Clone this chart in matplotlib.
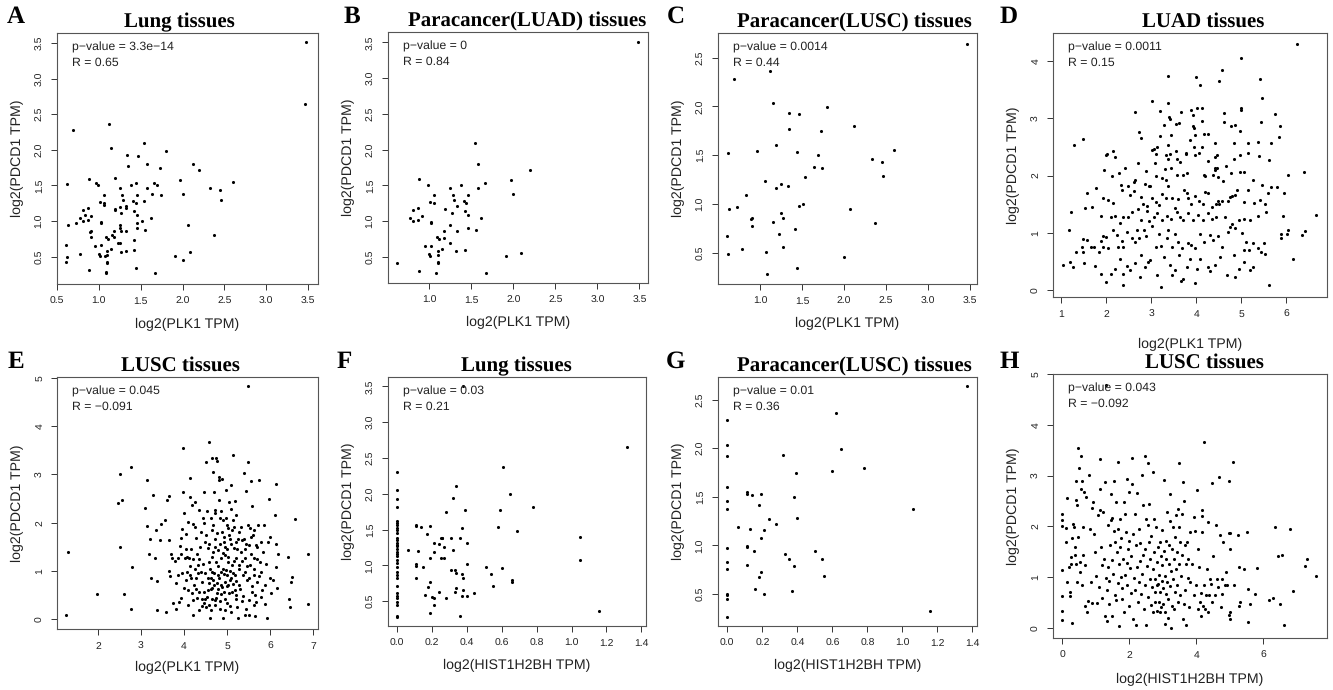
import numpy as np
import matplotlib
matplotlib.use("Agg")
import matplotlib.pyplot as plt

plt.rcParams['font.family'] = ['Liberation Sans', 'DejaVu Sans']
plt.rcParams['text.hinting'] = 'no_hinting'
SERIF = ['Liberation Serif', 'DejaVu Serif']

# ---- data: (x, y) pairs ----
# paracancer LUAD: PLK1 vs PDCD1
b_pts = [(0.61, 0.42), (0.88, 1.59), (0.77, 1.04), (0.81, 1.15), (0.81, 1.00), (0.87, 1.01),
         (0.87, 1.19), (0.91, 1.07), (0.88, 0.31), (0.95, 0.65), (0.99, 1.51), (1.01, 1.27),
         (1.02, 0.99), (1.02, 0.98), (1.06, 1.25), (1.06, 1.36), (1.02, 0.66), (1.00, 0.54),
         (1.01, 0.51), (1.09, 0.78), (1.11, 0.75), (1.10, 0.58), (1.10, 0.43), (1.10, 0.41),
         (1.10, 0.53), (1.08, 0.27), (1.15, 0.61), (1.18, 0.86), (1.18, 0.77), (1.19, 1.17),
         (1.25, 1.46), (1.25, 0.95), (1.25, 0.69), (1.27, 1.12), (1.28, 1.37), (1.29, 1.29),
         (1.32, 0.58), (1.33, 0.86), (1.33, 1.21), (1.38, 1.51), (1.41, 1.28), (1.42, 1.14),
         (1.42, 0.60), (1.44, 1.26), (1.46, 1.37), (1.46, 1.09), (1.46, 0.91), (1.54, 2.10),
         (1.58, 1.80), (1.58, 1.47), (1.55, 0.88), (1.62, 1.04), (1.66, 1.54), (1.67, 0.27),
         (1.91, 0.51), (1.97, 1.57), (2.00, 1.38), (2.09, 0.56), (2.20, 1.72), (3.48, 3.51)]

# paracancer LUSC: PLK1 vs PDCD1
c_pts = [(0.61, 0.67), (0.62, 0.49), (0.63, 0.95), (0.62, 1.52), (0.69, 2.28), (0.73, 0.97),
         (0.78, 0.54), (0.83, 1.09), (0.89, 0.84), (0.91, 0.86), (0.91, 0.77), (0.96, 1.54),
         (1.07, 0.51), (1.06, 1.23), (1.08, 0.28), (1.12, 2.36), (1.15, 2.03), (1.16, 0.81),
         (1.19, 1.60), (1.19, 1.16), (1.23, 0.69), (1.25, 1.20), (1.25, 0.91), (1.27, 0.86),
         (1.27, 0.56), (1.33, 1.18), (1.34, 1.93), (1.35, 1.77), (1.42, 0.74), (1.44, 0.34),
         (1.44, 1.53), (1.46, 0.98), (1.47, 1.92), (1.51, 1.00), (1.54, 1.28), (1.64, 1.38),
         (1.69, 1.50), (1.74, 1.37), (1.73, 1.75), (1.80, 1.99), (2.00, 0.46), (2.07, 0.95),
         (2.12, 1.80), (2.33, 1.46), (2.37, 0.80), (2.45, 1.43), (2.46, 1.29), (2.60, 1.55),
         (3.46, 2.64)]

# lung tissues = both paracancer groups
a_pts = b_pts + c_pts

# LUAD tissues: PLK1 vs PDCD1
d_pts = [(6.24, 4.29), (5.00, 4.05), (4.57, 3.83), (3.36, 3.73), (4.00, 3.71), (4.51, 3.65),
         (5.41, 3.69), (4.09, 3.57), (5.46, 3.35), (3.02, 3.30), (3.37, 3.27), (4.99, 3.18),
         (4.99, 3.14), (4.13, 3.18), (4.02, 3.17), (3.88, 3.14), (3.20, 3.12), (2.63, 3.11),
         (3.67, 3.10), (4.61, 3.09), (5.76, 3.07), (3.39, 3.02), (3.42, 2.98), (3.93, 3.06),
         (3.28, 2.88), (3.55, 2.90), (3.62, 2.92), (4.13, 2.95), (4.62, 2.93), (5.44, 2.93),
         (5.87, 2.86), (3.92, 2.86), (3.96, 2.82), (4.77, 2.86), (4.85, 2.88), (2.72, 2.75),
         (2.77, 2.66), (3.44, 2.70), (3.98, 2.71), (4.17, 2.73), (4.98, 2.78), (1.47, 2.64),
         (5.84, 2.67), (3.19, 2.68), (4.26, 2.72), (3.86, 2.62), (5.37, 2.59), (5.67, 2.57),
         (5.15, 2.57), (4.84, 2.57), (4.42, 2.57), (1.28, 2.54), (3.36, 2.54), (4.13, 2.50),
         (3.96, 2.50), (3.13, 2.50), (3.07, 2.47), (3.01, 2.45), (2.15, 2.43), (3.55, 2.43),
         (3.77, 2.40), (3.78, 2.38), (2.02, 2.38), (2.00, 2.36), (3.11, 2.38), (3.33, 2.35),
         (3.42, 2.38), (3.97, 2.35), (4.06, 2.39), (4.45, 2.36), (4.97, 2.35), (5.14, 2.40),
         (5.40, 2.34), (2.20, 2.32), (2.71, 2.21), (3.09, 2.22), (3.37, 2.28), (3.58, 2.28),
         (3.63, 2.23), (4.27, 2.26), (4.42, 2.33), (4.83, 2.28), (5.62, 2.27), (2.42, 2.13),
         (3.31, 2.11), (3.43, 2.13), (4.41, 2.13), (4.42, 2.10), (4.46, 2.13), (4.66, 2.17),
         (2.89, 2.08), (1.94, 2.09), (2.13, 1.99), (2.29, 2.04), (2.63, 1.93), (2.62, 1.89),
         (2.86, 1.86), (2.95, 1.82), (2.97, 1.81), (3.11, 1.99), (3.23, 1.96), (3.32, 1.93),
         (3.37, 1.82), (3.57, 2.01), (3.71, 2.01), (3.79, 2.04), (4.17, 2.01), (4.19, 1.99),
         (4.37, 2.01), (4.48, 1.97), (4.60, 1.90), (4.77, 2.04), (4.98, 2.06), (5.07, 2.06),
         (5.27, 1.92), (5.46, 1.84), (5.59, 1.69), (5.66, 1.80), (5.79, 1.80), (5.95, 1.69),
         (6.05, 2.01), (6.39, 2.06), (1.58, 1.69), (1.78, 1.79), (1.93, 1.60), (2.03, 1.57),
         (2.14, 1.52), (2.32, 1.83), (2.35, 1.74), (2.49, 1.82), (2.52, 1.66), (2.62, 1.73),
         (2.78, 1.62), (2.82, 1.51), (2.91, 1.47), (3.01, 1.61), (3.10, 1.54), (3.17, 1.49),
         (3.23, 1.67), (3.33, 1.61), (3.45, 1.60), (3.53, 1.44), (3.59, 1.59), (3.73, 1.75),
         (3.79, 1.69), (3.82, 1.60), (3.88, 1.51), (3.97, 1.64), (4.06, 1.55), (4.16, 1.51),
         (4.19, 1.71), (4.27, 1.70), (4.35, 1.46), (4.43, 1.51), (4.48, 1.56), (4.51, 1.50),
         (4.57, 1.55), (4.70, 1.55), (4.75, 1.63), (4.80, 1.65), (4.86, 1.66), (4.91, 1.74),
         (5.05, 1.54), (5.16, 1.74), (5.29, 1.53), (5.52, 1.50), (5.41, 1.57), (1.22, 1.36),
         (1.52, 1.44), (1.67, 1.46), (1.88, 1.29), (2.10, 1.27), (2.20, 1.29), (2.31, 1.18),
         (2.37, 1.28), (2.49, 1.27), (2.58, 1.37), (2.71, 1.41), (2.76, 1.22), (2.90, 1.39),
         (2.95, 1.20), (3.07, 1.27), (3.12, 1.34), (3.23, 1.22), (3.34, 1.29), (3.44, 1.25),
         (3.56, 1.36), (3.64, 1.28), (3.71, 1.22), (3.82, 1.34), (3.92, 1.22), (4.03, 1.31),
         (4.16, 1.22), (4.27, 1.34), (4.36, 1.24), (4.43, 1.28), (4.64, 1.28), (4.75, 1.11),
         (4.94, 1.22), (5.05, 1.25), (5.20, 1.22), (5.38, 1.30), (5.54, 1.36), (5.92, 1.29),
         (6.66, 1.31), (1.18, 1.05), (1.47, 0.90), (1.56, 0.87), (1.49, 0.66), (1.33, 0.67),
         (1.46, 0.75), (1.65, 0.75), (1.73, 0.75), (1.83, 0.66), (1.88, 0.86), (1.93, 0.94),
         (1.99, 0.93), (1.93, 0.76), (2.03, 0.73), (2.15, 1.05), (2.23, 0.96), (2.26, 0.76),
         (2.34, 0.86), (2.36, 0.76), (2.47, 1.01), (2.58, 0.92), (2.63, 0.84), (2.69, 1.05),
         (2.72, 0.91), (2.84, 1.05), (2.89, 0.95), (3.01, 1.12), (3.10, 0.76), (3.17, 0.99),
         (3.22, 0.77), (3.34, 0.92), (3.38, 1.05), (3.46, 0.76), (3.53, 0.99), (3.60, 0.84),
         (3.69, 0.74), (3.81, 0.82), (3.88, 0.79), (3.97, 0.73), (4.08, 0.99), (4.18, 0.84),
         (4.31, 0.96), (4.38, 0.87), (4.49, 0.95), (4.57, 0.76), (4.71, 1.02), (4.80, 1.15),
         (4.86, 1.09), (5.01, 1.00), (5.10, 0.84), (5.18, 0.71), (5.27, 0.82), (5.38, 0.73),
         (5.51, 0.83), (5.52, 0.64), (5.88, 0.92), (5.88, 0.99), (6.02, 0.99), (6.05, 1.05),
         (6.35, 0.96), (6.42, 1.03), (1.04, 0.45), (1.19, 0.49), (1.26, 0.41), (1.51, 0.47),
         (1.74, 0.43), (1.88, 0.28), (1.99, 0.15), (2.11, 0.29), (2.19, 0.37), (2.30, 0.54),
         (2.36, 0.29), (2.37, 0.09), (2.46, 0.43), (2.52, 0.36), (2.63, 0.47), (2.74, 0.23),
         (2.78, 0.61), (2.87, 0.41), (2.92, 0.50), (2.97, 0.52), (3.13, 0.26), (3.21, 0.05),
         (3.28, 0.58), (3.41, 0.44), (3.45, 0.27), (3.53, 0.35), (3.62, 0.61), (3.65, 0.17),
         (3.70, 0.19), (3.79, 0.41), (3.86, 0.54), (3.97, 0.12), (4.01, 0.38), (4.08, 0.55),
         (4.25, 0.41), (4.31, 0.34), (4.42, 0.44), (4.53, 0.58), (4.69, 0.26), (4.86, 0.23),
         (4.83, 0.61), (4.96, 0.38), (5.05, 0.50), (5.07, 0.70), (5.20, 0.35), (5.25, 0.41),
         (5.44, 0.67), (5.61, 0.10), (6.16, 0.55)]

# LUSC tissues: PLK1 vs PDCD1
e_pts = [(1.26, 0.08), (1.30, 1.40), (1.98, 0.52), (2.52, 3.00), (2.46, 2.40), (2.56, 2.46),
         (2.51, 1.49), (2.60, 0.52), (2.76, 3.15), (2.78, 1.08), (2.76, 0.21), (3.09, 2.31),
         (3.14, 2.89), (3.14, 1.94), (3.27, 2.57), (3.22, 1.67), (3.19, 1.36), (3.32, 1.26),
         (3.34, 1.85), (3.38, 0.79), (3.38, 0.19), (3.44, 1.64), (3.47, 1.98), (3.55, 2.05),
         (3.57, 0.16), (3.61, 2.46), (3.64, 2.56), (3.64, 1.64), (3.65, 1.00), (3.67, 0.90),
         (3.69, 1.35), (3.73, 1.26), (3.74, 0.33), (3.78, 1.21), (3.81, 0.21), (3.87, 1.26),
         (3.87, 0.92), (3.88, 0.35), (3.90, 1.51), (3.92, 1.69), (3.92, 1.36), (3.95, 1.86),
         (3.97, 2.64), (3.98, 3.55), (4.00, 2.20), (4.02, 1.26), (4.04, 1.76), (4.05, 0.81),
         (4.08, 0.98), (4.09, 2.02), (4.10, 0.30), (4.12, 1.26), (4.13, 2.53), (4.13, 2.93),
         (4.16, 1.45), (4.16, 0.85), (4.18, 0.54), (4.19, 2.36), (4.20, 1.98), (4.21, 0.08),
         (4.22, 1.25), (4.23, 0.71), (4.26, 2.43), (4.26, 1.91), (4.29, 1.69), (4.29, 0.85),
         (4.30, 0.45), (4.31, 1.36), (4.32, 1.12), (4.34, 2.26), (4.35, 0.19), (4.36, 0.57),
         (4.38, 1.50), (4.40, 0.98), (4.42, 0.78), (4.44, 2.09), (4.46, 2.64), (4.47, 0.33),
         (4.48, 1.61), (4.50, 0.43), (4.52, 3.26), (4.53, 2.24), (4.55, 1.47), (4.56, 0.61),
         (4.57, 1.19), (4.58, 3.67), (4.59, 0.30), (4.60, 0.02), (4.62, 0.85), (4.64, 1.85),
         (4.64, 3.34), (4.65, 0.98), (4.66, 0.43), (4.67, 1.40), (4.67, 3.05), (4.69, 2.64),
         (4.70, 0.71), (4.71, 1.67), (4.73, 2.26), (4.74, 1.19), (4.75, 3.33), (4.76, 3.27),
         (4.77, 0.54), (4.78, 0.92), (4.80, 1.43), (4.81, 2.95), (4.81, 2.47), (4.81, 2.88),
         (4.83, 2.09), (4.84, 0.37), (4.85, 0.71), (4.87, 1.26), (4.88, 1.81), (4.89, 2.91),
         (4.91, 1.05), (4.91, 0.03), (4.93, 1.60), (4.94, 0.57), (4.95, 1.33), (4.95, 0.78),
         (4.97, 2.09), (4.98, 2.67), (4.99, 0.92), (5.00, 0.33), (5.01, 1.45), (5.02, 1.89),
         (5.03, 1.19), (5.05, 2.43), (5.06, 0.81), (5.08, 1.67), (5.09, 0.16), (5.09, 2.29),
         (5.10, 2.78), (5.12, 1.12), (5.12, 0.57), (5.14, 3.40), (5.16, 1.91), (5.17, 1.47),
         (5.18, 2.44), (5.19, 0.92), (5.20, 0.43), (5.22, 2.16), (5.22, 1.26), (5.25, 1.67),
         (5.26, 0.02), (5.28, 0.71), (5.29, 1.12), (5.32, 1.40), (5.33, 1.91), (5.35, 0.37),
         (5.37, 0.92), (5.39, 3.02), (5.40, 1.67), (5.42, 1.26), (5.43, 0.10), (5.45, 2.65),
         (5.47, 0.81), (5.48, 3.26), (5.49, 4.82), (5.50, 1.54), (5.51, 0.10), (5.52, 0.40),
         (5.53, 1.88), (5.54, 1.12), (5.56, 2.86), (5.57, 0.57), (5.59, 2.35), (5.60, 1.74),
         (5.62, 0.92), (5.63, 1.27), (5.65, 0.06), (5.67, 0.35), (5.68, 1.54), (5.70, 0.78),
         (5.72, 1.95), (5.74, 2.88), (5.76, 1.19), (5.78, 0.47), (5.80, 0.98), (5.84, 1.40),
         (5.86, 1.95), (5.88, 0.31), (5.89, 0.71), (5.91, 1.14), (5.94, 0.02), (5.96, 1.60),
         (5.98, 2.50), (6.00, 1.71), (6.01, 0.85), (6.03, 0.54), (6.07, 0.81), (6.11, 2.16),
         (6.13, 2.81), (6.13, 1.09), (6.15, 1.56), (6.16, 0.64), (6.19, 1.36), (6.43, 1.29),
         (6.44, 0.43), (6.46, 0.26), (6.48, 0.78), (6.52, 0.88), (6.57, 2.07), (6.88, 1.36),
         (6.88, 0.32), (4.41, 0.43), (4.46, 0.56), (4.53, 0.47), (4.57, 0.76), (4.64, 0.65),
         (4.68, 0.81), (4.72, 0.40), (4.75, 0.45), (4.79, 0.63), (4.82, 0.85), (4.86, 0.52),
         (4.89, 0.67), (4.92, 0.93), (4.96, 0.43), (5.02, 0.71), (5.05, 0.54), (5.09, 0.86),
         (5.13, 0.74), (5.18, 0.61), (5.22, 0.50), (3.24, 0.85),
         (4.15, 1.10), (4.25, 1.05), (4.33, 0.95), (4.45, 1.15), (4.50, 0.95), (4.55, 0.85),
         (4.60, 1.05), (4.62, 0.62), (4.66, 1.28), (4.70, 0.95), (4.72, 1.50), (4.76, 0.75),
         (4.79, 1.10), (4.84, 1.55), (4.87, 0.98), (4.90, 1.38), (4.94, 1.70), (4.97, 1.02),
         (5.00, 0.70), (5.03, 1.30), (5.06, 1.00), (5.10, 1.55), (5.14, 0.95), (5.17, 1.20),
         (5.21, 0.80), (5.24, 1.45), (5.27, 1.05), (5.31, 0.62), (5.34, 1.20), (5.38, 0.48),
         (5.41, 0.98), (5.44, 1.55), (5.47, 1.10), (5.50, 0.85), (5.55, 1.35), (5.58, 0.70),
         (5.62, 1.05), (5.66, 0.50), (5.70, 1.25), (5.74, 0.90), (5.78, 1.60), (5.82, 0.60),
         (4.05, 1.45), (4.10, 0.60), (4.20, 0.40), (4.28, 0.62), (4.35, 1.25), (4.40, 1.80),
         (4.47, 2.00), (4.52, 1.75), (4.58, 1.55), (4.62, 2.10), (4.68, 1.95), (4.72, 2.20),
         (4.77, 1.78), (4.85, 2.25), (4.90, 2.05), (4.95, 1.50), (5.00, 1.95), (5.05, 1.75),
         (5.11, 1.85), (5.15, 2.05), (5.20, 1.60), (5.28, 1.80), (5.35, 1.65), (5.43, 1.45),
         (5.48, 1.95), (5.56, 1.70), (5.63, 1.85), (5.70, 1.50), (3.95, 0.95), (4.00, 0.65),
         (4.08, 1.30), (4.14, 0.92), (3.82, 0.75), (3.92, 0.45), (4.42, 0.28), (4.52, 0.25),
         (4.62, 0.20), (4.72, 0.30), (4.83, 0.22), (4.96, 0.20), (5.08, 0.28), (5.24, 0.25),
         (5.45, 0.22), (5.62, 0.30)]

# lung tissues: HIST1H2BH vs PDCD1 (samples at x = 0 kept apart)
f_zero_y = [2.30, 2.05, 1.93, 1.81, 1.62, 1.59, 1.56, 1.53, 1.49, 1.46, 1.39, 1.35, 1.32,
            1.29, 1.27, 1.23, 1.19, 1.16, 1.13, 1.07, 1.03, 0.98, 0.91, 0.87, 0.82, 0.72,
            0.62, 0.58, 0.54, 0.49, 0.45, 0.30, 0.28]
f_pts = [(0.06, 1.22), (0.11, 1.56), (0.11, 1.55), (0.11, 1.02), (0.11, 0.99), (0.11, 0.83),
         (0.12, 1.20), (0.14, 1.54), (0.15, 0.98), (0.16, 0.59), (0.17, 1.44), (0.18, 0.70),
         (0.19, 0.77), (0.19, 1.55), (0.19, 1.11), (0.19, 0.34), (0.20, 0.56), (0.21, 1.32),
         (0.21, 1.19), (0.21, 0.45), (0.21, 0.54), (0.24, 0.63), (0.24, 1.30), (0.25, 1.39),
         (0.26, 1.39), (0.26, 1.39), (0.25, 1.11), (0.27, 1.26), (0.27, 1.10), (0.28, 0.54),
         (0.28, 1.74), (0.31, 1.39), (0.31, 0.93), (0.32, 1.94), (0.32, 1.22), (0.33, 0.93),
         (0.33, 0.63), (0.34, 2.11), (0.34, 0.89), (0.34, 0.69), (0.36, 1.39), (0.36, 0.30),
         (0.37, 0.58), (0.37, 0.88), (0.37, 1.52), (0.38, 0.83), (0.38, 0.66), (0.39, 1.77),
         (0.40, 1.31), (0.40, 1.02), (0.40, 0.58), (0.44, 0.62), (0.51, 0.98), (0.54, 0.88),
         (0.55, 0.72), (0.58, 1.54), (0.59, 1.78), (0.60, 0.97), (0.61, 2.37), (0.65, 2.00),
         (0.69, 1.48), (0.66, 0.80), (0.66, 0.77), (0.78, 1.82), (1.05, 1.40), (1.05, 1.07),
         (1.16, 0.37), (1.32, 2.65), (0.38, 3.50)]

# paracancer LUSC: HIST1H2BH vs PDCD1
g_zero_y = [2.29, 2.03, 1.92, 1.60, 1.46, 1.37, 0.97, 0.83, 0.76, 0.50, 0.49, 0.45, 0.26]
g_pts = [(0.06, 1.19), (0.11, 1.55), (0.11, 1.53), (0.11, 0.99), (0.11, 0.98), (0.11, 0.80),
         (0.14, 1.52), (0.15, 0.94), (0.16, 0.55), (0.18, 1.42), (0.18, 0.67), (0.13, 1.17),
         (0.19, 1.53), (0.19, 1.08), (0.19, 0.73), (0.21, 0.50), (0.21, 1.16), (0.24, 1.27),
         (0.28, 1.22), (0.32, 1.93), (0.33, 0.91), (0.35, 0.86), (0.37, 0.53), (0.38, 1.50),
         (0.38, 0.79), (0.39, 1.75), (0.40, 1.28), (0.50, 0.94), (0.54, 0.86), (0.55, 0.68),
         (0.60, 1.77), (0.62, 2.36), (0.65, 1.99), (0.78, 1.80), (1.06, 1.37), (1.16, 0.32),
         (1.37, 2.64)]

# LUSC tissues: HIST1H2BH vs PDCD1
h_pts = [(0.00, 2.25), (0.00, 2.12), (0.00, 2.00), (0.00, 1.13), (0.00, 0.62), (0.00, 0.34),
         (0.00, 0.16), (0.10, 1.97), (0.12, 1.69), (0.15, 2.55), (0.15, 0.91), (0.19, 1.20),
         (0.22, 0.70), (0.23, 0.62), (0.25, 1.26), (0.27, 1.39), (0.29, 1.76), (0.30, 0.10),
         (0.33, 2.05), (0.35, 1.99), (0.37, 1.43), (0.39, 1.59), (0.41, 1.26), (0.42, 2.89),
         (0.42, 2.51), (0.43, 2.41), (0.45, 0.90), (0.47, 1.79), (0.48, 3.55), (0.50, 3.14),
         (0.52, 1.10), (0.53, 1.30), (0.55, 2.73), (0.57, 3.38), (0.59, 0.84), (0.60, 2.90),
         (0.61, 1.99), (0.62, 1.43), (0.65, 2.68), (0.67, 0.44), (0.69, 1.23), (0.72, 2.58),
         (0.73, 0.31), (0.75, 0.52), (0.80, 3.01), (0.82, 1.95), (0.84, 0.90), (0.87, 2.36),
         (0.89, 0.49), (0.91, 2.47), (0.93, 1.84), (0.97, 1.49), (1.00, 1.03), (1.03, 0.49),
         (1.06, 2.22), (1.09, 0.80), (1.11, 3.32), (1.12, 2.73), (1.13, 2.32), (1.15, 1.59),
         (1.17, 1.24), (1.19, 0.59), (1.22, 2.28), (1.25, 1.36), (1.27, 0.24), (1.28, 2.88),
         (1.30, 0.99), (1.32, 0.74), (1.34, 0.13), (1.35, 1.20), (1.37, 2.02), (1.39, 0.47),
         (1.40, 0.93), (1.42, 1.64), (1.45, 2.12), (1.45, 2.64), (1.47, 1.33), (1.49, 2.16),
         (1.49, 0.24), (1.52, 1.07), (1.54, 2.89), (1.55, 1.91), (1.57, 0.65), (1.58, 1.70),
         (1.60, 0.54), (1.61, 2.47), (1.64, 1.49), (1.65, 0.89), (1.67, 1.95), (1.67, 3.26),
         (1.69, 1.26), (1.70, 0.03), (1.72, 1.59), (1.72, 2.15), (1.74, 1.01), (1.76, 1.77),
         (1.78, 0.78), (1.79, 0.57), (1.82, 1.36), (1.84, 2.48), (1.85, 0.31), (1.86, 1.05),
         (1.88, 2.24), (1.91, 1.89), (1.92, 0.84), (1.94, 2.94), (1.94, 1.28), (1.96, 1.55),
         (1.98, 2.68), (1.99, 0.43), (2.00, 1.72), (2.02, 1.18), (2.04, 0.69), (2.06, 1.42),
         (2.08, 2.84), (2.09, 3.34), (2.10, 1.84), (2.11, 0.18), (2.14, 0.99), (2.16, 2.25),
         (2.18, 0.74), (2.20, 0.06), (2.21, 1.63), (2.23, 1.20), (2.24, 2.65), (2.26, 0.51),
         (2.28, 1.95), (2.30, 0.90), (2.31, 1.31), (2.33, 1.67), (2.36, 0.67), (2.37, 3.02),
         (2.39, 1.07), (2.41, 1.44), (2.42, 2.41), (2.44, 0.38), (2.46, 0.85), (2.47, 3.38),
         (2.48, 1.55), (2.49, 0.05), (2.51, 2.15), (2.53, 1.21), (2.55, 0.61), (2.56, 2.02),
         (2.57, 3.24), (2.58, 2.43), (2.59, 1.70), (2.61, 0.97), (2.63, 1.36), (2.65, 0.45),
         (2.66, 1.80), (2.68, 0.80), (2.70, 3.07), (2.71, 1.15), (2.72, 0.31), (2.74, 2.15),
         (2.75, 1.49), (2.76, 0.70), (2.77, 0.51), (2.78, 0.97), (2.80, 1.99), (2.81, 0.34),
         (2.82, 1.30), (2.83, 0.84), (2.84, 1.59), (2.86, 0.87), (2.87, 0.51), (2.88, 1.05),
         (2.90, 0.31), (2.91, 1.69), (2.92, 0.70), (2.93, 1.41), (2.94, 0.41), (2.96, 0.93),
         (2.97, 1.23), (2.98, 1.92), (2.99, 0.47), (3.01, 0.78), (3.03, 2.91), (3.04, 1.51),
         (3.05, 0.31), (3.06, 1.03), (3.07, 0.08), (3.08, 1.72), (3.09, 0.67), (3.10, 1.36),
         (3.11, 2.28), (3.13, 0.91), (3.14, 0.57), (3.16, 0.19), (3.17, 1.63), (3.18, 1.26),
         (3.20, 2.63), (3.21, 2.10), (3.22, 0.82), (3.23, 0.00), (3.24, 1.11), (3.26, 1.55),
         (3.27, 0.44), (3.29, 1.99), (3.30, 0.97), (3.32, 1.36), (3.33, 0.38), (3.35, 0.70),
         (3.37, 1.78), (3.38, 1.15), (3.40, 2.22), (3.41, 1.49), (3.43, 0.84), (3.44, 2.35),
         (3.45, 0.51), (3.47, 1.99), (3.49, 3.24), (3.49, 1.26), (3.51, 1.69), (3.52, 0.64),
         (3.54, 1.03), (3.56, 1.43), (3.58, 2.25), (3.59, 2.88), (3.61, 0.18), (3.62, 0.47),
         (3.63, 2.49), (3.65, 1.63), (3.66, 0.74), (3.68, 1.26), (3.70, 0.05), (3.72, 1.69),
         (3.74, 0.98), (3.76, 1.36), (3.78, 0.41), (3.80, 1.89), (3.82, 0.90), (3.86, 1.26),
         (3.94, 2.18), (3.94, 0.65), (3.96, 1.91), (3.99, 0.85), (4.02, 2.71), (4.04, 0.38),
         (4.06, 1.55), (4.08, 1.20), (4.11, 0.51), (4.13, 0.24), (4.14, 0.68), (4.16, 1.88),
         (4.16, 2.32), (4.18, 2.20), (4.20, 0.44), (4.22, 0.84), (4.24, 3.66), (4.26, 0.38),
         (4.28, 0.65), (4.31, 1.16), (4.34, 2.09), (4.36, 0.31), (4.38, 0.65), (4.41, 0.97),
         (4.44, 0.87), (4.46, 2.86), (4.48, 0.51), (4.51, 1.41), (4.56, 0.64), (4.58, 2.02),
         (4.61, 0.97), (4.64, 0.80), (4.68, 2.97), (4.70, 1.82), (4.74, 0.41), (4.76, 0.67),
         (4.78, 0.97), (4.81, 1.69), (4.86, 0.85), (4.88, 1.10), (4.92, 0.85), (4.96, 1.86),
         (4.97, 2.89), (4.98, 0.26), (4.99, 1.55), (5.00, 0.18), (5.00, 0.31), (5.01, 1.86),
         (5.09, 3.27), (5.13, 0.85), (5.23, 1.82), (5.27, 1.20), (5.28, 0.44), (5.30, 0.51),
         (5.43, 1.15), (5.51, 1.89), (5.53, 0.11), (5.55, 0.77), (5.60, 0.47), (5.75, 0.67),
         (5.81, 1.18), (6.17, 0.54), (6.30, 0.59), (6.35, 1.99), (6.43, 1.41), (6.50, 0.47),
         (6.57, 1.44), (6.63, 0.06), (6.79, 1.94), (6.88, 0.72), (7.25, 1.22), (7.30, 1.36),
         (7.58, 1.03), (1.31, 4.78)]

titles = ["Lung tissues", "Paracancer(LUAD) tissues", "Paracancer(LUSC) tissues", "LUAD tissues",
          "LUSC tissues", "Lung tissues", "Paracancer(LUSC) tissues", "LUSC tissues"]
letters = ["A", "B", "C", "D", "E", "F", "G", "H"]
p_values = ["3.3e\u221214", "0", "0.0014", "0.0011", "0.045", "0.03", "0.01", "0.043"]
r_values = ["0.65", "0.84", "0.44", "0.15", "\u22120.091", "0.21", "0.36", "\u22120.092"]
x_labels = ["log2(PLK1 TPM)"] * 5 + ["log2(HIST1H2BH TPM)"] * 3
y_label = "log2(PDCD1 TPM)"

# ---- layout (all in pixels of the 1333x690 figure) ----
W, H = 1333, 690
fig = plt.figure(figsize=(W / 100, H / 100), dpi=100)


def points(pts, zero_y=None):
    xs = [p[0] for p in pts]
    ys = [p[1] for p in pts]
    if zero_y is not None:
        xs = [0.0] * len(zero_y) + xs
        ys = list(zero_y) + ys
    return np.array(xs), np.array(ys)


panels = [
    # data, box (l, t, r, b), xlim, ylim, xticks, yticks, fmt, title x, letter xy, xlabel offset
    (points(a_pts), (57, 33, 318, 284), (0.504, 3.618), (0.117, 3.64),
     np.arange(0.5, 3.51, 0.5), np.arange(0.5, 3.51, 0.5), "%.1f", 179, (16, 17), 40),
    (points(b_pts), (388, 32, 648, 283), (0.508, 3.603), (0.136, 3.645),
     np.arange(1.0, 3.51, 0.5), np.arange(0.5, 3.51, 0.5), "%.1f", 527, (352, 17), 39),
    (points(c_pts), (718, 33, 977, 284), (0.50, 3.583), (0.178, 2.753),
     np.arange(1.0, 3.51, 0.5), np.arange(0.5, 2.51, 0.5), "%.1f", 854, (676, 17), 39),
    (points(d_pts), (1053, 33, 1327, 297), (0.814, 6.906), (-0.116, 4.483),
     np.arange(1, 7), np.arange(0, 5), "%d", 1203, (1009, 17), 47),
    (points(e_pts), (57, 377, 318, 629), (1.047, 7.116), (-0.20, 5.014),
     np.arange(2, 8), np.arange(0, 6), "%d", 180, (16, 362), 38),
    (points(f_pts, f_zero_y), (388, 377, 646, 626), (-0.052, 1.427), (0.155, 3.631),
     np.arange(0, 1.41, 0.2), np.arange(0.5, 3.51, 0.5), "%.1f", 516, (344, 362), 39),
    (points(g_pts, g_zero_y), (718, 377, 977, 626), (-0.053, 1.426), (0.17, 2.733),
     np.arange(0, 1.41, 0.2), np.arange(0.5, 2.51, 0.5), "%.1f", 854, (676, 362), 39),
    (points(h_pts), (1053, 374, 1327, 638), (-0.28, 7.9), (-0.20, 4.99),
     np.arange(0, 7, 2), np.arange(0, 6), "%d", 1204, (1009, 362), 41),
]

for i, ((xs, ys), box, xlim, ylim, xt, yt, fmt, tx, lxy, xoff) in enumerate(panels):
    l, t, r, b = box
    w, h = r - l, b - t
    ax = fig.add_axes([l / W, 1 - b / H, w / W, h / H])
    ax.scatter(xs, ys, s=5, c="black", linewidths=0, zorder=3)
    ax.set_xlim(*xlim)
    ax.set_ylim(*ylim)
    ax.set_xticks(xt, [fmt % v for v in xt])
    ax.set_yticks(yt, [fmt % v for v in yt])
    for lab in ax.get_yticklabels():
        lab.set_rotation(90)
        lab.set_va("center")
    ax.tick_params(labelsize=7.5, length=4, width=0.7, pad=5, color="#333333",
                   labelcolor="#222222")
    for sp in ax.spines.values():
        sp.set_linewidth(0.8)
        sp.set_color("#555555")

    ax.set_xlabel(x_labels[i], fontsize=10.2, va="center", color="#222222")
    ax.xaxis.set_label_coords(0.5, -xoff / h)
    ax.set_ylabel(y_label, fontsize=10.2, va="center", color="#222222")
    ax.yaxis.set_label_coords(-40 / w, 0.5)

    ax.text(15 / w, 1 - 14.5 / h, "p\u2212value = " + p_values[i], transform=ax.transAxes,
            fontsize=8.8, va="center", ha="left", color="#222222")
    ax.text(15 / w, 1 - 29.5 / h, "R = " + r_values[i], transform=ax.transAxes,
            fontsize=8.8, va="center", ha="left", color="#222222")

    fig.text(tx / W, 1 - (t - 11) / H, titles[i], family=SERIF, weight="bold",
             fontsize=15, ha="center", va="center")
    fig.text(lxy[0] / W, 1 - lxy[1] / H, letters[i], family=SERIF, weight="bold",
             fontsize=18, ha="center", va="center")

fig.savefig("out.png", dpi=100)
